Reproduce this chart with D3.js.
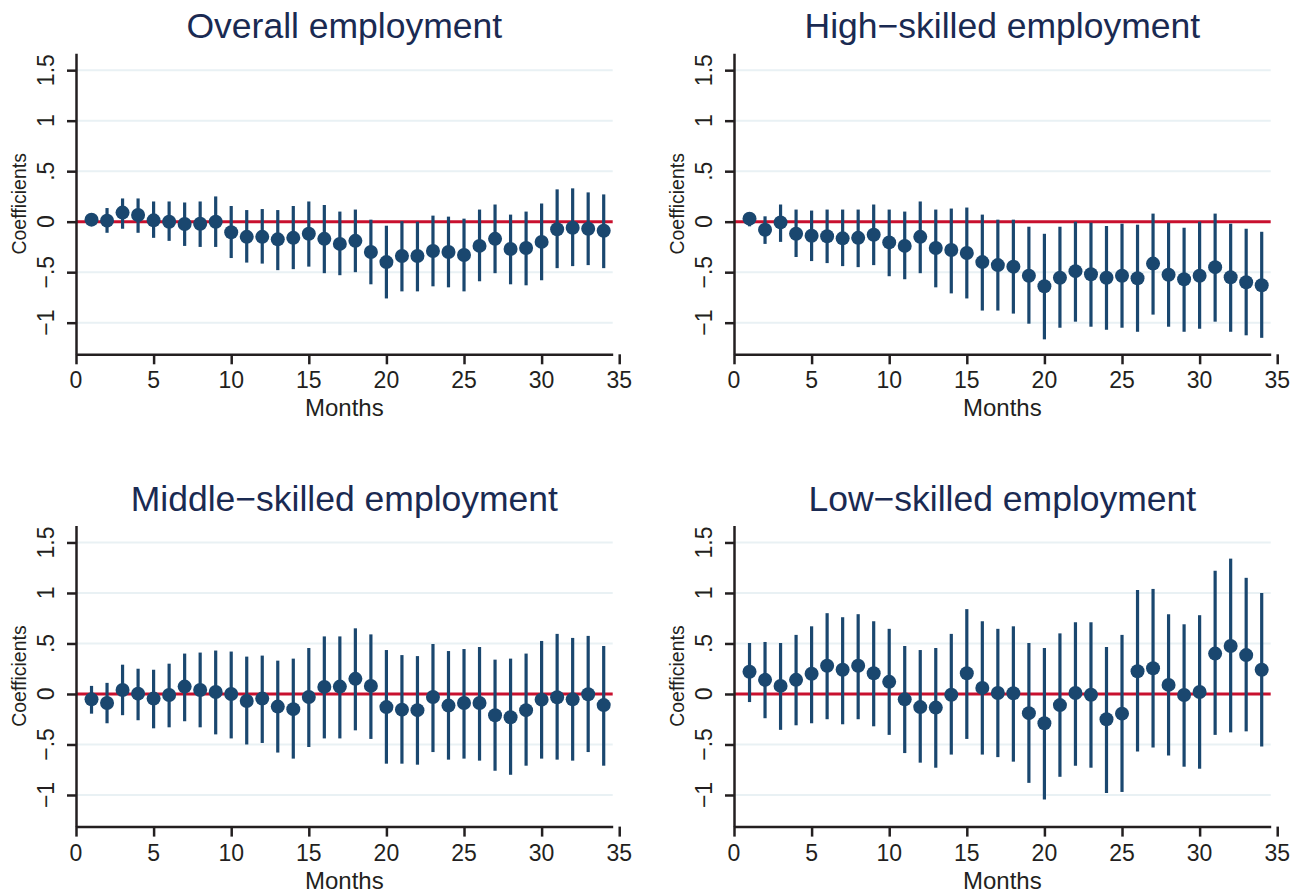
<!DOCTYPE html>
<html>
<head>
<meta charset="utf-8">
<script src="https://cdn.jsdelivr.net/npm/d3@7"></script>
<style>
  html, body { margin: 0; padding: 0; background: #fff; }
  svg { display: block; font-family: "Liberation Sans", Arial, Helvetica, sans-serif; }
</style>
</head>
<body>
<svg id="chart" width="1303" height="892"></svg>
<script>
// Event-study coefficients with confidence intervals, by month
const months = d3.range(1, 35);

const overallCoef = [0.02, 0.01, 0.09, 0.066, 0.013, 0.0, -0.023, -0.02, 0.0, -0.105, -0.15, -0.15, -0.175, -0.16, -0.12, -0.17, -0.22, -0.19, -0.30, -0.40, -0.34, -0.34, -0.29, -0.30, -0.33, -0.24, -0.17, -0.27, -0.26, -0.20, -0.075, -0.06, -0.07, -0.09];
const overallHi = [0.06, 0.135, 0.23, 0.23, 0.20, 0.20, 0.19, 0.20, 0.25, 0.155, 0.115, 0.125, 0.115, 0.155, 0.2, 0.165, 0.10, 0.12, 0.02, -0.04, 0.005, 0.0, 0.06, 0.05, 0.03, 0.12, 0.17, 0.07, 0.10, 0.18, 0.32, 0.33, 0.29, 0.27];
const overallLo = [-0.04, -0.11, -0.07, -0.11, -0.16, -0.19, -0.24, -0.25, -0.25, -0.36, -0.405, -0.415, -0.48, -0.47, -0.445, -0.51, -0.53, -0.50, -0.62, -0.76, -0.69, -0.69, -0.64, -0.65, -0.69, -0.59, -0.51, -0.62, -0.63, -0.58, -0.46, -0.44, -0.43, -0.46];

const highCoef = [0.03, -0.08, -0.007, -0.12, -0.14, -0.145, -0.165, -0.16, -0.13, -0.205, -0.24, -0.15, -0.26, -0.28, -0.31, -0.40, -0.43, -0.445, -0.535, -0.64, -0.555, -0.49, -0.52, -0.555, -0.535, -0.56, -0.415, -0.525, -0.57, -0.535, -0.45, -0.55, -0.60, -0.63];
const highHi = [0.096, 0.053, 0.17, 0.12, 0.11, 0.12, 0.12, 0.12, 0.17, 0.12, 0.10, 0.20, 0.12, 0.13, 0.14, 0.07, 0.02, 0.02, -0.05, -0.12, -0.05, 0.0, -0.01, -0.043, -0.02, -0.03, 0.08, -0.01, -0.06, 0.0, 0.08, -0.02, -0.07, -0.10];
const highLo = [-0.046, -0.22, -0.20, -0.35, -0.39, -0.41, -0.44, -0.45, -0.43, -0.54, -0.57, -0.51, -0.65, -0.71, -0.76, -0.88, -0.88, -0.91, -1.01, -1.165, -1.05, -0.99, -1.04, -1.07, -1.05, -1.09, -0.92, -1.04, -1.09, -1.06, -0.99, -1.09, -1.125, -1.15];

const middleCoef = [-0.053, -0.09, 0.04, 0.003, -0.046, -0.01, 0.073, 0.04, 0.02, 0.0, -0.07, -0.046, -0.125, -0.15, -0.03, 0.07, 0.073, 0.15, 0.08, -0.13, -0.155, -0.16, -0.03, -0.115, -0.09, -0.09, -0.21, -0.23, -0.16, -0.056, -0.033, -0.053, -0.003, -0.11];
const middleHi = [0.08, 0.11, 0.29, 0.25, 0.24, 0.30, 0.40, 0.41, 0.43, 0.42, 0.37, 0.38, 0.33, 0.35, 0.455, 0.57, 0.57, 0.65, 0.59, 0.435, 0.385, 0.375, 0.495, 0.425, 0.445, 0.465, 0.34, 0.35, 0.40, 0.525, 0.595, 0.555, 0.575, 0.475];
const middleLo = [-0.195, -0.29, -0.21, -0.26, -0.34, -0.33, -0.27, -0.33, -0.40, -0.44, -0.50, -0.485, -0.58, -0.64, -0.525, -0.44, -0.44, -0.36, -0.445, -0.69, -0.69, -0.70, -0.575, -0.65, -0.64, -0.66, -0.76, -0.80, -0.71, -0.64, -0.65, -0.66, -0.575, -0.71];

const lowCoef = [0.22, 0.14, 0.08, 0.14, 0.20, 0.28, 0.24, 0.28, 0.205, 0.12, -0.053, -0.13, -0.135, -0.007, 0.205, 0.06, 0.01, 0.007, -0.19, -0.29, -0.11, 0.01, -0.007, -0.25, -0.195, 0.225, 0.255, 0.09, -0.01, 0.02, 0.40, 0.475, 0.385, 0.24];
const lowHi = [0.505, 0.515, 0.505, 0.585, 0.67, 0.80, 0.76, 0.79, 0.72, 0.645, 0.475, 0.435, 0.455, 0.595, 0.84, 0.72, 0.645, 0.67, 0.505, 0.455, 0.60, 0.71, 0.71, 0.465, 0.585, 1.03, 1.04, 0.79, 0.69, 0.78, 1.22, 1.34, 1.15, 1.00];
const lowLo = [-0.08, -0.24, -0.355, -0.31, -0.29, -0.25, -0.30, -0.25, -0.32, -0.405, -0.585, -0.68, -0.73, -0.60, -0.445, -0.60, -0.625, -0.67, -0.88, -1.045, -0.82, -0.71, -0.73, -0.98, -0.97, -0.57, -0.53, -0.61, -0.72, -0.74, -0.405, -0.38, -0.37, -0.52];

const panelTitles = ["Overall employment", "High\u2212skilled employment", "Middle\u2212skilled employment", "Low\u2212skilled employment"];
const xTicks = [0, 5, 10, 15, 20, 25, 30, 35];
const yTicks = [-1, -0.5, 0, 0.5, 1, 1.5];
const yTickLabels = ["\u22121", "\u2212.5", "0", ".5", "1", "1.5"];
const xTitle = "Months";
const yTitle = "Coefficients";

// Layout
const plotW = 536.7, plotH = 301;
const origins = [[76, 53.3], [734, 53.3], [76, 525.6], [734, 525.6]];
const xDomain = [0, 34.58];
const yDomain = [-1.313, 1.667];

const colMark = "#1a476f";
const colZero = "#c8102e";
const colGrid = "#e9f1f4";
const colAxis = "#231f20";
const colTitle = "#1a2a52";

const panels = [
  { coef: overallCoef, lo: overallLo, hi: overallHi },
  { coef: highCoef, lo: highLo, hi: highHi },
  { coef: middleCoef, lo: middleLo, hi: middleHi },
  { coef: lowCoef, lo: lowLo, hi: lowHi }
];

const svg = d3.select("#chart");
const x = d3.scaleLinear().domain(xDomain).range([0, plotW]);
const y = d3.scaleLinear().domain(yDomain).range([plotH, 0]);

panels.forEach((p, i) => {
  const [ox, oy] = origins[i];
  const g = svg.append("g").attr("transform", `translate(${ox},${oy})`);
  const rows = months.map((m, k) => ({ m, c: p.coef[k], lo: p.lo[k], hi: p.hi[k] }));

  // Horizontal grid lines
  g.selectAll("line.grid").data(yTicks.filter(v => v !== 0)).join("line")
    .attr("class", "grid")
    .attr("x1", 0).attr("x2", plotW)
    .attr("y1", d => y(d)).attr("y2", d => y(d))
    .attr("stroke", colGrid).attr("stroke-width", 2);

  // Zero reference line
  g.append("line")
    .attr("x1", 0).attr("x2", plotW)
    .attr("y1", y(0)).attr("y2", y(0))
    .attr("stroke", colZero).attr("stroke-width", 3);

  // Confidence interval spikes
  g.selectAll("line.ci").data(rows).join("line")
    .attr("class", "ci")
    .attr("x1", d => x(d.m)).attr("x2", d => x(d.m))
    .attr("y1", d => y(d.lo)).attr("y2", d => y(d.hi))
    .attr("stroke", colMark).attr("stroke-width", 3.2);

  // Point estimates
  g.selectAll("circle.pt").data(rows).join("circle")
    .attr("class", "pt")
    .attr("cx", d => x(d.m)).attr("cy", d => y(d.c))
    .attr("r", 7)
    .attr("fill", colMark);

  // Y axis
  const yAxis = g.append("g")
    .call(d3.axisLeft(y).tickValues(yTicks).tickSize(9).tickSizeOuter(0).tickFormat(""));
  yAxis.select(".domain").attr("stroke", colAxis).attr("stroke-width", 2.5);
  yAxis.selectAll(".tick line").attr("stroke", colAxis).attr("stroke-width", 2.5);
  g.selectAll("text.ylab").data(yTicks).join("text")
    .attr("class", "ylab")
    .attr("transform", d => `translate(-22.5,${y(d)}) rotate(-90)`)
    .attr("text-anchor", "middle")
    .attr("font-size", 23)
    .attr("fill", colAxis)
    .text((d, k) => yTickLabels[k]);

  // X axis
  const xAxis = g.append("g")
    .attr("transform", `translate(0,${plotH})`)
    .call(d3.axisBottom(x).tickValues(xTicks).tickSize(10).tickSizeOuter(0).tickFormat(""));
  xAxis.select(".domain").attr("stroke", colAxis).attr("stroke-width", 2.5);
  xAxis.selectAll(".tick line").attr("stroke", colAxis).attr("stroke-width", 2.5);
  g.selectAll("text.xlab").data(xTicks).join("text")
    .attr("class", "xlab")
    .attr("x", d => x(d)).attr("y", plotH + 34)
    .attr("text-anchor", "middle")
    .attr("font-size", 23)
    .attr("fill", colAxis)
    .text(d => d);

  // Axis titles
  g.append("text")
    .attr("x", plotW / 2).attr("y", plotH + 62)
    .attr("text-anchor", "middle")
    .attr("font-size", 24)
    .attr("fill", colAxis)
    .text(xTitle);
  g.append("text")
    .attr("transform", `translate(-50.5,${plotH / 2}) rotate(-90)`)
    .attr("text-anchor", "middle")
    .attr("font-size", 19.5)
    .attr("fill", colAxis)
    .text(yTitle);

  // Panel title
  g.append("text")
    .attr("x", plotW / 2).attr("y", -15)
    .attr("text-anchor", "middle")
    .attr("font-size", 35.5)
    .attr("fill", colTitle)
    .text(panelTitles[i]);
});
</script>
</body>
</html>
